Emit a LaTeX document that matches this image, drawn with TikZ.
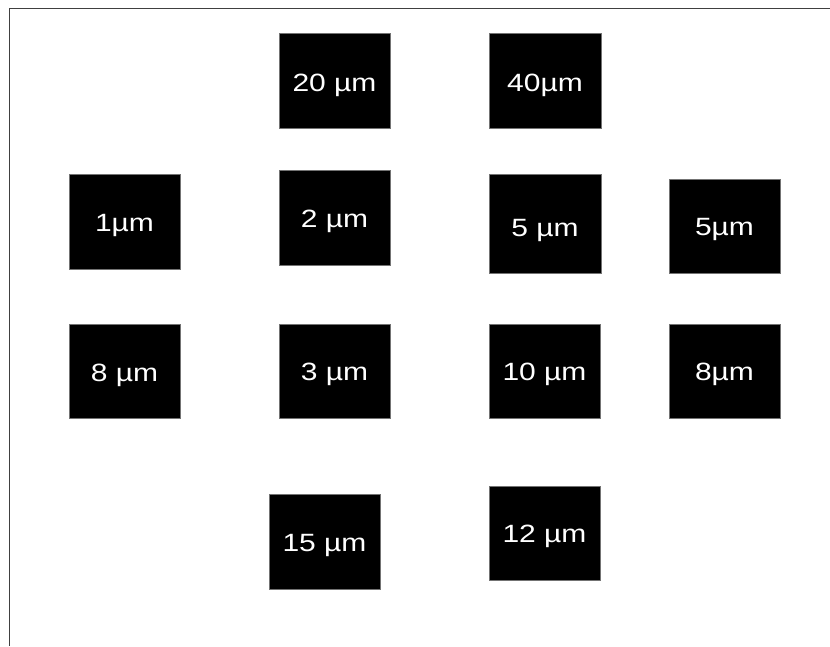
\documentclass[tikz,border=0pt]{standalone}
\usepackage{fontspec}
\setmainfont{Liberation Sans}
\begin{document}
\begin{tikzpicture}[x=1pt,y=-1pt,
  sqbox/.style={draw=black!55, line width=0.8pt, fill=black, inner sep=0pt,
    minimum width=111pt, minimum height=95pt},
  lbl/.style={text=white, inner sep=0pt, text height=17.9pt, text depth=0pt,
    font=\fontsize{25}{30}\selectfont},
  frameline/.style={draw=black!75, line width=1.8pt}]
\useasboundingbox (0,0) rectangle (830,646);
\coordinate (ftop) at (830,8.5);
\coordinate (fcorner) at (9.5,8.5);
\coordinate (fbot) at (9.5,646);
\draw[frameline] (ftop) -- (fcorner) -- (fbot);
\newcommand{\um}[1]{\scalebox{1.2}[1]{#1}}
\node[sqbox, label={[lbl, yshift=-1pt]center:\um{20 µm}}] (b20) at (334.5,81.25) {};
\node[sqbox, minimum width=112pt, label={[lbl, yshift=-1pt]center:\um{40µm}}] (b40) at (545,81.25) {};
\node[sqbox, label={[lbl, yshift=-1pt]center:\um{1µm}}] (b1) at (124.5,221.5) {};
\node[sqbox, label={[lbl, yshift=-1pt]center:\um{2 µm}}] (b2) at (334.5,217.5) {};
\node[sqbox, minimum width=112pt, minimum height=99pt, label={[lbl, yshift=-4.5pt]center:\um{5 µm}}] (b5a) at (545,223.5) {};
\node[sqbox, minimum height=94pt, label={[lbl, yshift=-1pt]center:\um{5µm}}] (b5b) at (724.5,226) {};
\node[sqbox, minimum height=94pt, label={[lbl, yshift=-1.5pt]center:\um{8 µm}}] (b8a) at (124.5,371) {};
\node[sqbox, minimum height=94pt, label={[lbl, yshift=-1pt]center:\um{3 µm}}] (b3) at (334.5,371) {};
\node[sqbox, minimum height=94pt, label={[lbl, yshift=-0.5pt]center:\um{10 µm}}] (b10) at (544.5,371) {};
\node[sqbox, minimum height=94pt, label={[lbl, yshift=-1pt]center:\um{8µm}}] (b8b) at (724.5,371) {};
\node[sqbox, label={[lbl, yshift=-1pt]center:\um{15 µm}}] (b15) at (324.5,541.5) {};
\node[sqbox, minimum height=94pt, label={[lbl, yshift=-1pt]center:\um{12 µm}}] (b12) at (544.5,533) {};
\end{tikzpicture}
\end{document}
